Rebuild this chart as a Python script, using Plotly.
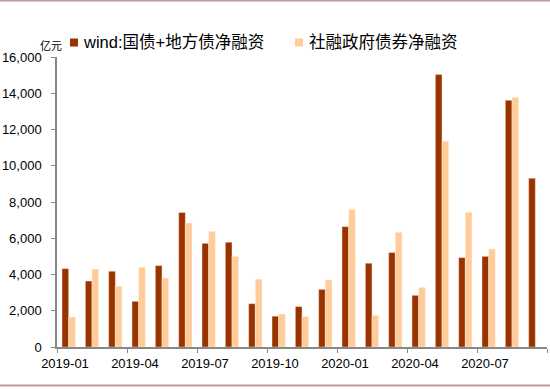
import plotly.graph_objects as go

months = ["2019-01", "2019-02", "2019-03", "2019-04", "2019-05", "2019-06", "2019-07",
          "2019-08", "2019-09", "2019-10", "2019-11", "2019-12", "2020-01", "2020-02",
          "2020-03", "2020-04", "2020-05", "2020-06", "2020-07", "2020-08", "2020-09"]
wind_net = [4325, 3640, 4180, 2520, 4490, 7420, 5720, 5780, 2390, 1700, 2230, 3180,
            6640, 4620, 5210, 2850, 15030, 4930, 5000, 13610, 9310]
tsf_gov_net = [1660, 4300, 3350, 4400, 3810, 6840, 6380, 5000, 3740, 1820, 1680, 3700,
               7580, 1750, 6330, 3290, 11350, 7430, 5410, 13780, None]
series_names = ["wind:国债+地方债净融资", "社融政府债券净融资"]
series_colors = ["#993300", "#FFCC99"]
tick_labels = ["2019-01", "2019-04", "2019-07", "2019-10", "2020-01", "2020-04", "2020-07", ""]
y_ticks = [0, 2000, 4000, 6000, 8000, 10000, 12000, 14000, 16000]

xpos = list(range(len(months)))
font_family = "Liberation Sans, Arial, Noto Sans CJK SC, sans-serif"

# plot area in pixels: x 57..547, y 57..347
def px_x(p):
    return (p - 57) / 490

def px_y(p):
    return (347 - p) / 290

fig = go.Figure()
fig.add_trace(go.Bar(x=xpos, y=wind_net, name=series_names[0],
                     marker=dict(color=series_colors[0], line=dict(color="rgba(255,235,220,0.7)", width=0.6)),
                     customdata=months))
fig.add_trace(go.Bar(x=xpos, y=tsf_gov_net, name=series_names[1],
                     marker=dict(color=series_colors[1], line=dict(color="rgba(255,245,235,0.7)", width=0.6)),
                     customdata=months))

tickvals = [i * 3 - 0.5 for i in range(len(tick_labels))]

# manual legend (square + text) to match the reference placement
legend_sq_x = [70, 295]
legend_txt_x = [81, 307]
shapes = []
annotations = []
for i in range(2):
    shapes.append(dict(type="rect", xref="paper", yref="paper",
                       x0=px_x(legend_sq_x[i]), x1=px_x(legend_sq_x[i] + 8),
                       y0=px_y(46.5), y1=px_y(38.5),
                       fillcolor=series_colors[i], line=dict(width=0)))
    annotations.append(dict(text=series_names[i], xref="paper", yref="paper",
                            x=px_x(legend_txt_x[i]), y=px_y(42.5), xanchor="left", yanchor="middle",
                            showarrow=False, font=dict(size=16.5, color="#000000")))

annotations.append(dict(text="亿元", xref="paper", yref="paper", x=px_x(51), y=px_y(45),
                        xanchor="center", yanchor="middle", showarrow=False,
                        font=dict(size=11, family="Noto Sans CJK SC")))
shapes.append(dict(type="line", xref="paper", yref="paper", x0=px_x(0), x1=px_x(550),
                   y0=px_y(0.75), y1=px_y(0.75), line=dict(color="#C89696", width=1.5)))
shapes.append(dict(type="line", xref="paper", yref="paper", x0=px_x(0), x1=px_x(550),
                   y0=px_y(385.5), y1=px_y(385.5), line=dict(color="#C89696", width=2)))

fig.update_layout(
    width=550, height=389,
    margin=dict(l=57, r=3, t=57, b=42),
    paper_bgcolor="white", plot_bgcolor="white",
    barmode="group", bargap=0.43, bargroupgap=0,
    font=dict(family=font_family, size=13, color="#000000"),
    showlegend=False,
    xaxis=dict(range=[-0.5, len(months) - 0.5], tickmode="array", tickvals=tickvals,
               ticktext=tick_labels, ticks="outside", ticklen=4, tickcolor="#888888",
               showline=True, linecolor="#888888", linewidth=1.5, showgrid=False,
               zeroline=False, ticklabelshift=8, tickfont=dict(size=13)),
    yaxis=dict(range=[0, 16000], tickmode="array", tickvals=y_ticks,
               tickformat=",", ticks="outside", ticklen=4, tickcolor="#888888",
               showline=True, linecolor="#888888", linewidth=1.5, showgrid=False,
               zeroline=False, ticklabelstandoff=7, tickfont=dict(size=13)),
    annotations=annotations,
    shapes=shapes,
)

fig.write_html("out.html", config={"displayModeBar": False},
               post_script="document.body.style.margin='0';")
